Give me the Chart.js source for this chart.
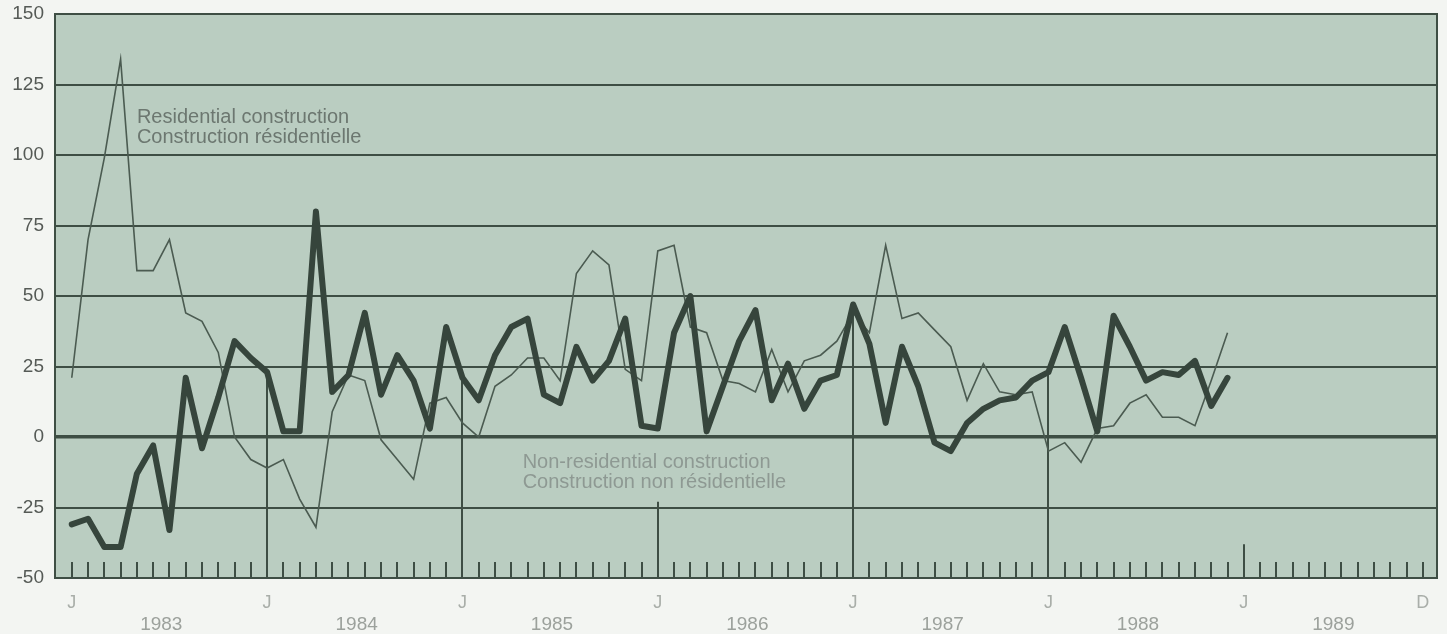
<!DOCTYPE html>
<html>
<head>
<meta charset="utf-8">
<title>Residential / non-residential construction</title>
<script src="https://cdn.jsdelivr.net/npm/chart.js@4.4.1/dist/chart.umd.min.js"></script>
<style>
  html, body { margin: 0; padding: 0; background: #f3f5f2; }
  canvas { display: block; }
</style>
</head>
<body>
<canvas id="chart" width="1447" height="634"></canvas>
<script>
// ── Data: monthly, Jan 1983 .. Dec 1988 (axis runs to Dec 1989) ──
const years = ['1983', '1984', '1985', '1986', '1987', '1988', '1989'];
const monthTicks = [0, 12, 24, 36, 48, 60, 72, 83];
const monthTickLabels = ['J', 'J', 'J', 'J', 'J', 'J', 'J', 'D'];
const yTicks = [-50, -25, 0, 25, 50, 75, 100, 125, 150];

const nonResidential = [
  -31, -29, -39, -39, -13, -3, -33, 21, -4, 14, 34, 28,
  23, 2, 2, 80, 16, 22, 44, 15, 29, 20, 3, 39,
  21, 13, 29, 39, 42, 15, 12, 32, 20, 27, 42, 4,
  3, 37, 50, 2, 18, 34, 45, 13, 26, 10, 20, 22,
  47, 33, 5, 32, 18, -2, -5, 5, 10, 13, 14, 20,
  23, 39, 21, 2, 43, 32, 20, 23, 22, 27, 11, 21
];
const residential = [
  21, 70, 99, 134, 59, 59, 70, 44, 41, 30, 0, -8,
  -11, -8, -22, -32, 9, 22, 20, -1, -8, -15, 12, 14,
  5, 0, 18, 22, 28, 28, 20, 58, 66, 61, 24, 20,
  66, 68, 39, 37, 20, 19, 16, 31, 16, 27, 29, 34,
  44, 37, 68, 42, 44, 38, 32, 13, 26, 16, 15, 16,
  -5, -2, -9, 3, 4, 12, 15, 7, 7, 4, 20, 37
];
// top of the January separator lines, Jan 1984 .. Jan 1989 (value units)
const yearLineTop = [23, 21, -23, 47, 23, -38];

// ── Styles ──
const PAGE_BG = '#f3f5f2';
const PLOT_BG = '#bacdc1';
const INK = '#3e4e44';
const FONT = '"Liberation Sans", Arial, sans-serif';
const monthTickTop = -44.3;

const toPoints = arr => arr.map((v, i) => ({ x: i, y: v }));

const labels = [
  { lines: ['Residential construction', 'Construction résidentielle'], x: 4.0, y: 111.5, color: '#6c7770' },
  { lines: ['Non-residential construction', 'Construction non résidentielle'], x: 27.7, y: -11, color: '#8e9993' }
];

const decor = {
  id: 'decor',
  beforeDraw(chart) {
    const { ctx, chartArea: a, width, height } = chart;
    ctx.save();
    ctx.fillStyle = PAGE_BG;
    ctx.fillRect(0, 0, width, height);
    ctx.fillStyle = PLOT_BG;
    ctx.fillRect(a.left, a.top, a.right - a.left, a.bottom - a.top);
    ctx.restore();
  },
  beforeDatasetsDraw(chart) {
    const { ctx, chartArea: a, scales: { x, y } } = chart;
    ctx.save();
    ctx.strokeStyle = INK;
    ctx.lineWidth = 2;
    ctx.beginPath();
    const base = y.getPixelForValue(-50);
    for (let m = 0; m < 84; m++) {
      const px = Math.round(x.getPixelForValue(m));
      ctx.moveTo(px, base);
      ctx.lineTo(px, y.getPixelForValue(monthTickTop));
    }
    yearLineTop.forEach((v, i) => {
      const px = Math.round(x.getPixelForValue((i + 1) * 12));
      ctx.moveTo(px, base);
      ctx.lineTo(px, y.getPixelForValue(v));
    });
    // right frame
    ctx.moveTo(a.right - 1, a.top);
    ctx.lineTo(a.right - 1, a.bottom);
    ctx.stroke();

    ctx.font = '20px ' + FONT;
    ctx.textBaseline = 'alphabetic';
    ctx.textAlign = 'left';
    labels.forEach(l => {
      ctx.fillStyle = l.color;
      const px = x.getPixelForValue(l.x);
      const py = y.getPixelForValue(l.y);
      l.lines.forEach((t, k) => ctx.fillText(t, px, py + k * 20));
    });
    ctx.restore();
  }
};

new Chart(document.getElementById('chart'), {
  type: 'line',
  data: {
    datasets: [
      {
        label: 'Residential construction',
        data: toPoints(residential),
        borderColor: '#4b5b51',
        borderWidth: 1.6,
        pointRadius: 0,
        tension: 0,
        order: 2
      },
      {
        label: 'Non-residential construction',
        data: toPoints(nonResidential),
        borderColor: '#36453c',
        borderWidth: 6,
        borderJoinStyle: 'round',
        borderCapStyle: 'round',
        pointRadius: 0,
        tension: 0,
        order: 1
      }
    ]
  },
  options: {
    responsive: false,
    devicePixelRatio: 1,
    animation: false,
    layout: { padding: { top: 14, right: 9, left: 0, bottom: 0 } },
    plugins: { legend: { display: false }, tooltip: { enabled: false } },
    scales: {
      x: {
        type: 'linear',
        min: -1.03,
        max: 83.93,
        weight: 0,
        grid: { display: false, drawTicks: false },
        border: { display: false },
        afterBuildTicks: s => { s.ticks = monthTicks.map(v => ({ value: v })); },
        afterFit: s => { s.height = 30; },
        ticks: {
          autoSkip: false,
          maxRotation: 0,
          padding: 14,
          color: '#a9aea9',
          font: { family: FONT, size: 18 },
          callback: v => monthTickLabels[monthTicks.indexOf(v)]
        }
      },
      x2: {
        type: 'linear',
        position: 'bottom',
        min: -1.03,
        max: 83.93,
        weight: 1,
        grid: { display: false, drawTicks: false },
        border: { display: false },
        afterBuildTicks: s => { s.ticks = years.map((_, i) => ({ value: i * 12 + 5.5 })); },
        afterFit: s => { s.height = 26; },
        ticks: {
          autoSkip: false,
          maxRotation: 0,
          padding: 5,
          color: '#9ca19c',
          font: { family: FONT, size: 19 },
          callback: v => years[Math.round((v - 5.5) / 12)]
        }
      },
      y: {
        min: -50,
        max: 150,
        afterBuildTicks: s => { s.ticks = yTicks.map(v => ({ value: v })); },
        afterFit: s => { s.width = 55; s.paddingTop = 0; s.paddingBottom = 0; },
        grid: {
          color: INK,
          lineWidth: c => (c.tick && c.tick.value === 0 ? 3.5 : 2),
          drawTicks: false
        },
        border: { display: true, color: INK, width: 2 },
        ticks: {
          padding: 11,
          color: '#555a56',
          font: { family: FONT, size: 19 }
        }
      }
    }
  },
  plugins: [decor]
});
</script>
</body>
</html>
